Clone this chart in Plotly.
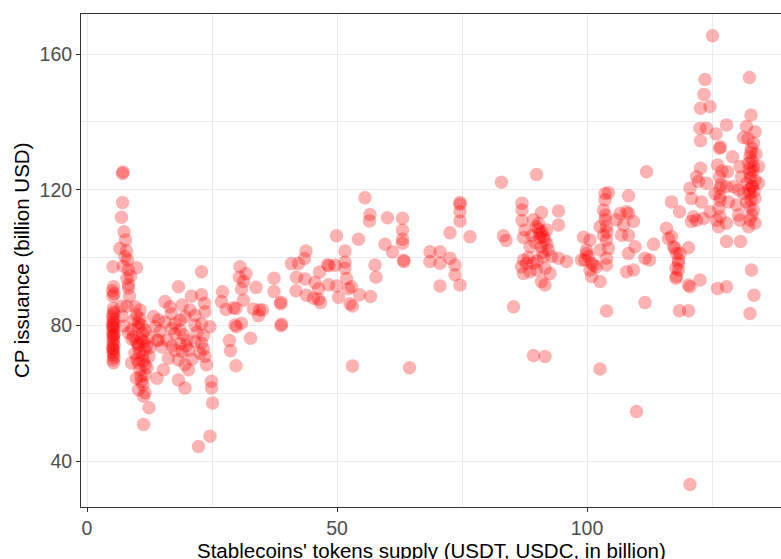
import plotly.graph_objects as go

# Stablecoin token supply (USDT + USDC, billion) vs. commercial paper issuance (billion USD)
supply_g1 = [5.2, 5.3, 5.1, 5.4, 5.2, 5.3, 5.1, 5.3, 5.2, 5.4, 5.2, 5.3, 5.1, 5.4, 5.2, 5.3, 5.2, 5.4, 5.1, 5.3,
             5.2, 5.3, 5.4, 5.2, 5.3, 5.1, 5.3, 5.2, 5.4, 5.3,
             7.1, 7.2, 7.1, 6.9, 7.4, 7.7, 6.6, 7.6, 8.1, 7.3, 8.3, 8.0, 8.3, 8.3, 8.5, 8.0, 6.9, 7.0, 7.3, 8.3,
             9.0, 9.9, 8.7, 7.9,
             9.6, 10.6, 9.9, 10.3, 9.0, 9.3, 11.1, 9.9, 11.3, 10.3, 11.6, 9.6, 11.1, 12.4, 8.9, 10.3, 11.6, 10.6,
             11.6, 9.9, 10.9, 10.3, 11.6, 11.3, 12.4, 11.3, 10.3, 11.0, 11.6, 10.8, 10.2, 11.9, 10.5, 10.0, 11.3,
             12.0, 10.8, 11.2, 10.6, 12.2, 12.6, 9.4]
cp_g1 = [97.3, 91.4, 90.2, 89.3, 88.6, 83.5, 82.6, 81.8, 81.0, 80.4, 79.6, 78.9, 78.1, 77.4, 76.7, 75.9, 75.0, 74.3,
         73.6, 72.9, 72.0, 71.3, 70.6, 69.8, 69.0, 80.0, 77.0, 73.0, 84.0, 85.0,
         124.8, 125.2, 116.2, 111.9, 107.6, 105.2, 102.7, 100.3, 99.3, 97.4, 96.4, 93.9, 92.0, 91.0, 88.6, 85.6,
         85.6, 82.7, 79.8, 77.8, 75.9, 97.0, 94.5, 102.0,
         85.5, 84.5, 83.1, 80.7, 78.7, 76.7, 77.7, 75.2, 75.2, 73.8, 72.8, 71.8, 70.8, 70.8, 68.9, 68.9, 68.4,
         66.9, 65.4, 64.4, 63.5, 61.0, 60.1, 59.1, 55.7, 50.8, 79.5, 80.0, 78.5, 76.0, 74.5, 74.0, 72.0, 70.0,
         69.5, 67.5, 65.0, 62.5, 82.0, 76.5, 73.5, 81.5]

supply_g2 = [13.3, 14.3, 15.6, 16.6, 16.9, 18.3, 19.0, 20.9, 22.9, 22.9, 23.6, 21.6, 24.6, 13.6, 14.6, 14.0, 15.0,
             16.0, 17.6, 18.6, 19.3, 18.6, 20.0, 17.6, 19.0, 20.3, 21.6, 22.9, 22.6, 23.6, 23.9, 16.3, 15.3, 14.0,
             18.3, 19.6, 20.3, 18.3, 19.6, 24.9, 24.9, 25.1, 24.6, 22.3,
             17.6, 18.6, 19.6, 14.3, 16.9, 21.6, 22.9, 20.6, 15.6, 17.0, 19.8, 21.0, 22.0, 23.3, 23.3, 23.5]
cp_g2 = [82.6, 81.6, 87.0, 85.5, 83.5, 91.4, 86.0, 88.6, 95.8, 89.0, 84.0, 83.0, 79.6, 79.6, 78.2, 75.6, 73.6,
         75.6, 77.6, 78.7, 77.2, 74.6, 75.6, 72.7, 72.2, 72.7, 75.2, 74.7, 71.8, 70.8, 68.4, 70.3, 66.9, 64.4,
         69.8, 68.4, 66.9, 63.9, 61.5, 63.5, 61.5, 57.1, 47.3, 44.3,
         80.5, 81.5, 82.5, 75.6, 79.0, 80.0, 80.5, 84.5, 81.0, 74.0, 74.0, 70.0, 78.0, 77.0, 73.0, 86.5]

supply_g3 = [27.1, 26.9, 27.8, 29.3, 29.8, 30.6, 30.5, 31.8, 31.3, 30.9, 31.3, 33.8, 33.3, 34.5, 35.1, 34.3, 29.6,
             29.9, 30.9, 28.5, 28.7, 29.8, 32.7, 37.4, 37.4, 38.7, 38.8, 38.8, 38.9, 40.9, 43.8, 43.5, 42.3, 41.9,
             43.6, 41.8, 43.9, 45.6, 46.5, 46.3, 45.3, 46.3, 46.7, 48.1, 48.4, 49.6, 48.3, 49.9, 50.3, 49.9, 51.6,
             51.6, 51.9, 52.3, 52.6, 51.6, 52.9]
cp_g3 = [89.9, 87.0, 84.7, 85.2, 85.0, 97.3, 94.2, 95.2, 92.9, 90.7, 87.4, 91.2, 84.8, 84.5, 84.5, 82.8, 80.1,
         79.6, 80.6, 75.5, 72.5, 68.1, 76.2, 93.9, 90.0, 86.4, 86.8, 79.9, 80.3, 98.2, 101.9, 99.7, 98.2, 94.2,
         93.7, 90.2, 88.9, 92.6, 95.7, 90.8, 88.0, 87.7, 86.7, 97.9, 97.6, 97.7, 92.0, 91.6, 88.3, 106.4, 101.9,
         98.7, 93.8, 90.8, 86.4, 96.8, 91.4]

supply_g4 = [55.6, 56.6, 56.5, 60.1, 54.3, 59.6, 61.1, 63.1, 63.1, 63.1, 63.1, 63.4, 63.3, 57.6, 57.8, 53.1, 54.5,
             56.7, 53.1, 64.5, 68.6, 70.6, 68.6, 70.6, 72.6, 73.6, 73.6, 74.6, 70.6, 74.6, 74.6, 74.6, 74.6, 72.6,
             76.6]
cp_g4 = [117.6, 112.7, 110.8, 111.7, 105.4, 103.9, 101.6, 111.6, 108.1, 105.4, 104.2, 98.8, 99.2, 97.8, 94.2,
         85.7, 89.0, 88.5, 68.0, 67.5, 101.7, 101.7, 98.8, 98.3, 99.8, 97.8, 94.9, 91.9, 91.6, 115.7, 116.2, 113.5,
         110.8, 107.3, 106.1]

supply_g5 = [82.9, 89.9, 87.0, 87.0, 87.0, 90.9, 94.3, 94.3, 89.3, 83.3, 83.8, 87.6, 87.3, 89.9, 90.6, 91.3, 91.9,
             91.6, 90.9, 92.3, 88.6, 92.9, 91.3, 94.3, 95.9, 87.3, 87.9, 86.9, 89.3, 89.9, 91.6, 92.6, 90.9, 91.6,
             87.3, 88.6, 85.3, 89.3, 91.6, 90.3, 91.0, 90.6, 89.6, 88.3, 90.0, 91.0, 92.0, 89.0, 90.3]
cp_g5 = [122.2, 124.5, 116.0, 114.0, 110.9, 113.3, 113.7, 109.6, 111.1, 106.4, 105.0, 108.1, 105.9, 109.1, 107.1,
         106.1, 108.1, 105.2, 103.2, 102.2, 103.2, 100.3, 100.3, 99.8, 98.8, 99.3, 98.3, 97.3, 98.3, 96.3, 96.8,
         95.3, 92.9, 91.9, 95.3, 95.8, 85.5, 71.1, 70.8, 108.3, 107.6, 105.8, 104.5, 100.0, 99.0, 101.5, 104.0,
         106.5, 110.0]

supply_g6 = [99.3, 100.6, 99.9, 100.3, 101.3, 100.6, 100.9, 102.6, 99.6, 102.6, 103.9, 103.9, 98.9, 99.9, 100.9,
             101.9, 103.6, 104.3, 103.6, 103.3, 103.6, 103.9, 103.3, 103.9, 104.3, 102.6, 103.7, 104.0, 108.3,
             107.9, 106.6, 107.3, 106.9, 109.3, 108.3, 109.6, 108.3, 107.9, 109.3, 105.9, 108.3, 103.9, 102.6,
             109.9]
cp_g6 = [106.0, 105.2, 102.2, 100.3, 97.8, 96.3, 94.4, 92.9, 99.3, 102.2, 99.8, 97.8, 99.3, 101.2, 98.3, 97.3,
         118.9, 119.1, 117.0, 114.0, 111.1, 109.1, 106.6, 105.2, 102.7, 109.1, 112.5, 107.5, 118.2, 113.5, 113.0,
         109.6, 106.6, 110.6, 106.6, 103.2, 101.2, 95.8, 96.3, 111.1, 113.0, 84.2, 67.1, 54.6]

supply_g7 = [125.1, 132.5, 123.6, 123.4, 122.7, 124.6, 132.8, 122.6, 123.9, 127.9, 125.8, 122.7, 131.9, 131.3,
             133.6, 133.3, 132.9, 132.6, 132.3, 133.3, 132.6, 133.6, 131.9, 132.9, 132.6, 133.6, 131.9, 133.3,
             132.6, 133.6, 132.3, 134.3, 134.3, 130.6, 130.9, 130.3, 131.3,
             132.8, 133.0, 132.5, 133.2, 132.7, 133.1, 132.4, 133.4, 132.8, 132.5, 133.0, 133.8, 132.2,
             126.5, 126.7, 129.1, 126.1, 128.1, 126.5, 127.9, 129.3, 126.6, 125.6, 126.6, 128.3, 129.9, 126.6,
             125.9, 127.9, 126.3, 130.6, 130.3, 126.6, 126.4, 126.8, 127.0,
             122.7, 121.9, 122.3, 123.9, 120.6, 120.9, 122.9, 116.9, 118.5, 124.6, 121.3, 121.9, 123.3, 120.9,
             115.9, 116.3, 117.3, 117.9, 118.3, 117.8, 120.3, 113.3, 111.6, 112.5, 117.8, 120.3, 120.6, 122.6,
             127.9, 130.7, 126.1, 127.9, 132.9, 133.4, 132.6, 118.5, 120.3, 111.9, 111.6, 120.6,
             116.9, 117.6, 118.3, 118.3, 117.9, 118.6]
cp_g7 = [165.4, 153.1, 152.5, 148.1, 144.0, 144.5, 142.0, 138.1, 138.1, 139.1, 136.4, 134.4, 138.6, 135.4,
         137.1, 133.7, 132.2, 129.7, 127.8, 126.8, 124.8, 122.8, 121.9, 120.9, 118.9, 117.4, 116.4, 114.0,
         111.1, 110.1, 109.1, 126.8, 121.9, 126.8, 123.8, 119.9, 118.9,
         131.0, 128.5, 126.0, 125.5, 123.5, 121.0, 120.0, 119.5, 117.0, 115.0, 112.5, 130.5, 135.0,
         132.2, 132.6, 129.7, 127.3, 125.3, 123.8, 120.9, 120.9, 120.4, 118.9, 116.9, 116.4, 115.5, 112.0,
         111.0, 110.1, 109.1, 111.0, 112.5, 118.0, 114.5, 121.5, 125.5,
         126.3, 123.8, 122.4, 121.9, 120.4, 117.4, 116.4, 116.4, 113.5, 113.5, 112.0, 111.0, 111.5, 110.6,
         108.6, 105.6, 103.2, 101.2, 99.3, 96.8, 102.9, 103.9, 99.8, 99.3, 93.9, 91.9, 91.4, 93.4,
         104.7, 104.7, 90.9, 91.4, 96.3, 88.9, 83.5, 84.3, 84.3, 125.3, 86.7, 33.1,
         106.2, 102.7, 98.3, 96.3, 94.4, 101.2]

supply = supply_g1 + supply_g2 + supply_g3 + supply_g4 + supply_g5 + supply_g6 + supply_g7
cp_issuance = cp_g1 + cp_g2 + cp_g3 + cp_g4 + cp_g5 + cp_g6 + cp_g7

x_ticks = [0, 50, 100]
y_ticks = [40, 80, 120, 160]

FONT = "Liberation Sans, Arial, sans-serif"
GRID = "#EBEBEB"
INK = "#333333"

fig = go.Figure(
    go.Scatter(
        x=supply,
        y=cp_issuance,
        mode="markers",
        marker=dict(size=13.5, color="rgba(255,0,0,0.3)", line=dict(width=0)),
        hoverinfo="x+y",
    )
)

axis_common = dict(
    showgrid=True,
    gridcolor=GRID,
    gridwidth=1.1,
    zeroline=False,
    showline=True,
    linecolor=INK,
    linewidth=1,
    ticks="outside",
    ticklen=4,
    tickwidth=1,
    tickcolor=INK,
    tickfont=dict(family=FONT, size=19.5, color="#4D4D4D"),
)

fig.update_xaxes(
    range=[-1.2, 138.8],
    tickmode="array",
    tickvals=x_ticks,
    ticktext=[str(v) for v in x_ticks],
    minor=dict(tickvals=[25, 75, 125], showgrid=True, gridcolor=GRID, gridwidth=0.55, ticks=""),
    mirror=True,
    **axis_common,
)
fig.update_yaxes(
    range=[26.44, 171.8],
    tickmode="array",
    tickvals=y_ticks,
    ticktext=[str(v) for v in y_ticks],
    minor=dict(tickvals=[60, 100, 140], showgrid=True, gridcolor=GRID, gridwidth=0.55, ticks=""),
    **axis_common,
)

fig.update_layout(
    width=781,
    height=559,
    margin=dict(l=81, r=0, t=14, b=52, pad=0),
    paper_bgcolor="white",
    plot_bgcolor="white",
    showlegend=False,
    font=dict(family=FONT, color="black"),
    annotations=[
        dict(
            text="Stablecoins' tokens supply (USDT, USDC, in billion)",
            xref="paper", yref="paper", x=0.5, y=-0.0892,
            xanchor="center", yanchor="middle", showarrow=False,
            font=dict(family=FONT, size=20.5, color="black"),
        ),
        dict(
            text="CP issuance (billion USD)",
            xref="paper", yref="paper", x=-0.085, y=0.5,
            xanchor="center", yanchor="middle", showarrow=False, textangle=-90,
            font=dict(family=FONT, size=20.5, color="black"),
        ),
    ],
)

fig.write_html("out.html")
